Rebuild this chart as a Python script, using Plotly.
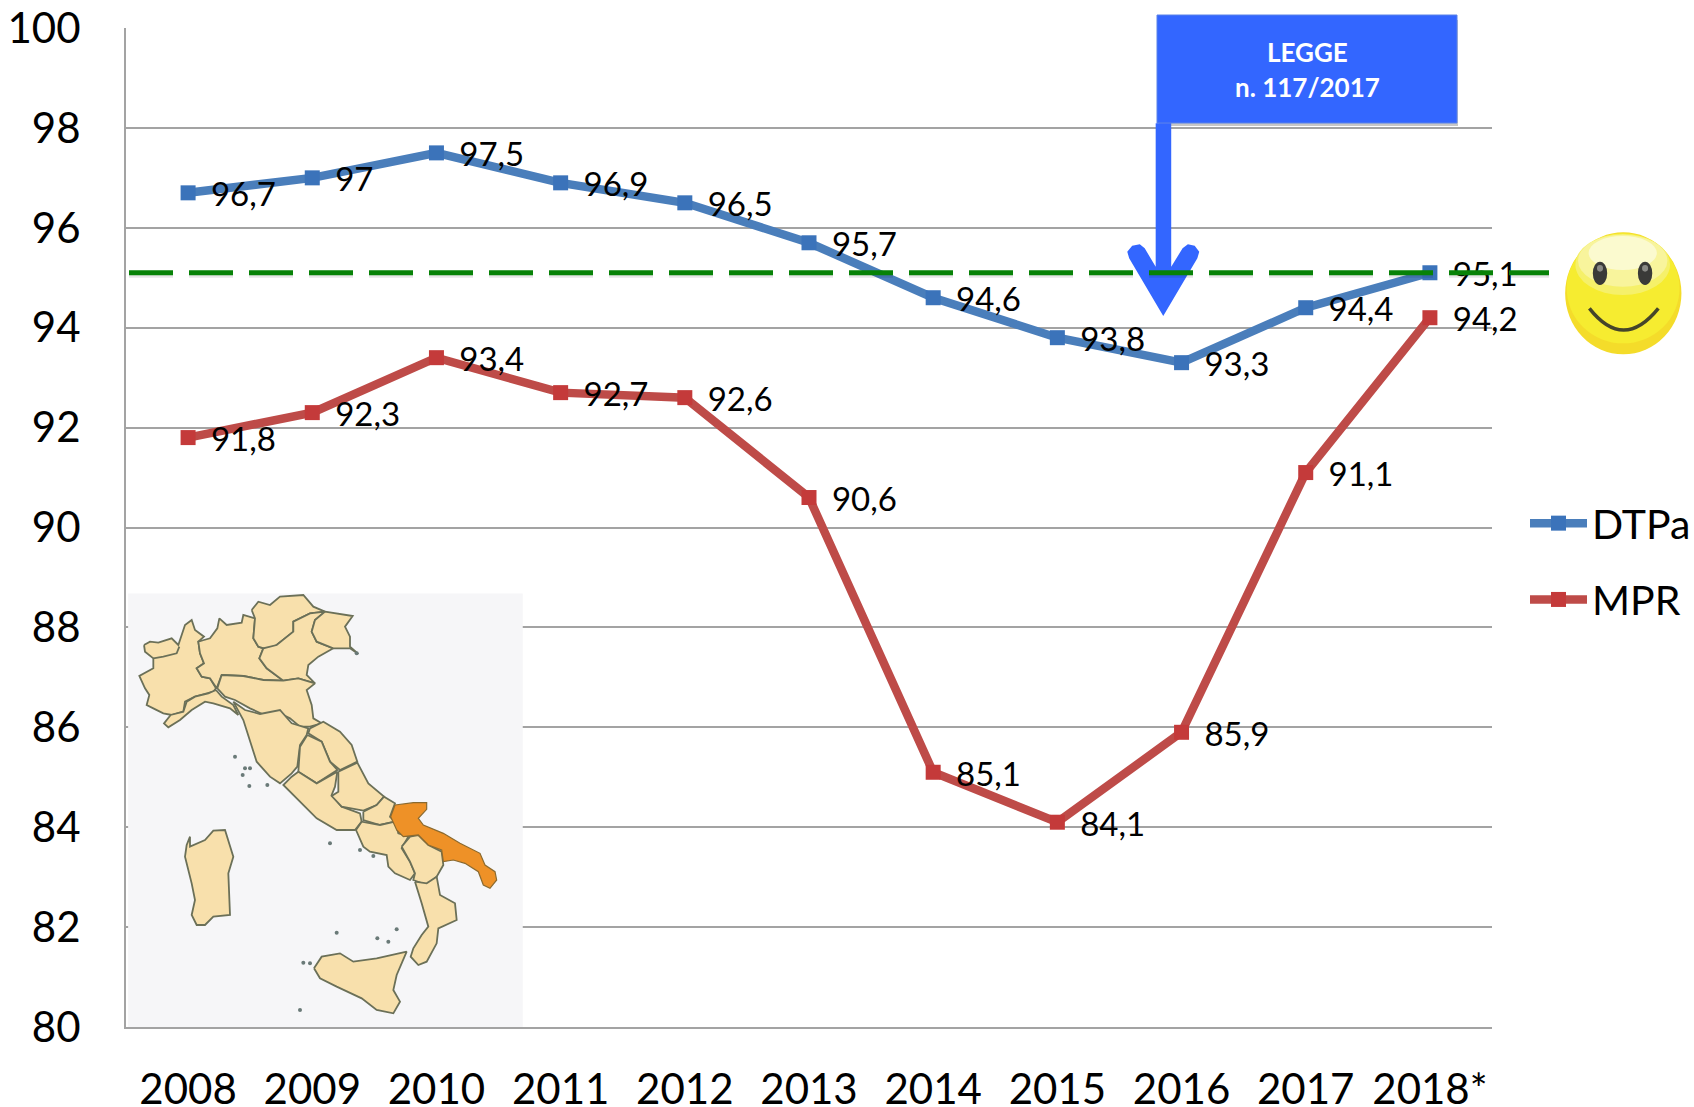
import plotly.graph_objects as go

W, H = 1694, 1107
YEARS = ["2008", "2009", "2010", "2011", "2012", "2013", "2014", "2015", "2016", "2017", "2018*"]
DTPA = [96.7, 97, 97.5, 96.9, 96.5, 95.7, 94.6, 93.8, 93.3, 94.4, 95.1]
MPR = [91.8, 92.3, 93.4, 92.7, 92.6, 90.6, 85.1, 84.1, 85.9, 91.1, 94.2]
Y_TICKS = list(range(80, 101, 2))
BOX_LINES = ["LEGGE", "n. 117/2017"]

FONT = "Lato, Noto Sans, sans-serif"
BLUE_LINE, BLUE_MARK = "#4A7EBB", "#3B73BA"
RED_LINE, RED_MARK = "#BE4B48", "#C43A3A"
GRID = "#A3A3A3"
GREEN = "#078207"
ARROW = "#3366FF"

NORTH_ORIGIN = (60, 30)
NORTH = {
    "Piemonte": [(42,165),(60,155),(85,158),(125,145),(145,165),(150,150),(165,105),(185,90),(195,120),(222,140),(205,155),(210,190),(222,220),(200,235),(215,260),(240,265),(258,295),(250,305),(230,310),(195,320),(165,335),(160,365),(125,375),(100,370),(70,355),(50,345),(58,315),(45,295),(28,258),(70,235),(70,205),(45,185)],
    "Liguria": [(258,300),(275,320),(310,345),(325,375),(300,355),(250,340),(225,335),(185,360),(150,390),(115,412),(102,400),(122,375),(160,365),(170,335),(195,320),(235,310)],
    "Lombardia": [(222,150),(240,145),(262,115),(268,85),(290,105),(335,98),(340,75),(375,85),(370,145),(385,170),(400,175),(388,205),(410,235),(460,272),(400,270),(340,258),(275,255),(260,295),(240,265),(215,260),(200,235),(222,220),(210,190),(205,155)],
    "Trentino": [(365,60),(385,35),(420,45),(450,20),(520,15),(550,50),(585,65),(540,70),(510,85),(490,95),(490,125),(440,165),(410,178),(385,170),(370,145),(375,85)],
    "Veneto": [(585,65),(555,90),(545,125),(560,155),(610,175),(565,200),(535,225),(530,255),(555,280),(505,265),(460,272),(410,235),(388,205),(400,175),(440,165),(490,125),(490,95),(510,85),(540,70)],
    "Friuli": [(585,65),(668,78),(645,110),(660,140),(660,170),(685,192),(660,175),(610,175),(560,155),(545,125),(555,90)],
    "Emilia": [(275,255),(340,258),(400,270),(460,272),(505,265),(555,280),(530,300),(545,345),(550,385),(575,400),(540,410),(510,410),(480,385),(450,370),(410,378),(360,355),(315,330),(285,320),(262,295)],
}
AOSTA_EDGE = [(70,205),(100,200),(140,190),(148,170)]
NORTH_ISLETS = [(680,190)]

CENTRE_ORIGIN = (330, 330)
CENTRE = {
    "Toscana": [(40,35),(75,60),(120,72),(180,60),(215,100),(265,115),(260,135),(240,165),(232,230),(215,250),(180,280),(150,260),(110,215),(90,150),(70,90)],
    "Marche": [(270,115),(310,95),(360,125),(395,165),(412,215),(360,240),(330,215),(305,155),(265,130)],
    "Umbria": [(262,135),(305,155),(330,215),(352,240),(290,280),(235,245),(240,170)],
    "Lazio": [(235,245),(290,280),(352,245),(345,290),(335,315),(365,350),(420,370),(425,395),(405,420),(350,420),(290,385),(250,345),(190,285),(215,260)],
    "Abruzzo": [(355,245),(412,218),(445,280),(492,320),(470,345),(430,362),(365,350),(335,318),(355,305)],
    "Molise": [(430,365),(470,345),(492,320),(525,340),(510,380),(525,395),(480,405),(430,390)],
    "Campania": [(408,420),(425,395),(480,405),(525,395),(535,430),(565,440),(545,475),(570,515),(585,550),(570,570),(525,550),(505,530),(500,495),(450,485),(430,470)],
    "Basilicata": [(545,470),(570,440),(595,435),(625,465),(665,485),(670,525),(650,560),(620,585),(580,570),(585,550),(570,515)],
}
PUGLIA = [(525,345),(580,338),(620,338),(620,358),(595,385),(610,405),(670,430),(720,460),(780,490),(795,525),(825,545),(830,570),(810,595),(790,585),(775,545),(735,520),(700,510),(670,515),(665,480),(625,465),(595,435),(550,440),(530,420),(512,380)]
CENTRE_ISLETS = [(45,200),(75,235),(90,235),(68,255),(88,288),(142,285)]

SOUTH_ORIGIN = (180, 720)
SOUTH = {
    "Calabria": [(735,185),(770,190),(800,170),(810,225),(855,250),(860,300),(805,325),(800,370),(770,425),(745,435),(722,410),(730,385),(755,345),(775,320),(755,250)],
    "Sicilia": [(432,445),(455,410),(510,400),(550,425),(620,415),(710,395),(680,465),(670,510),(690,545),(670,580),(620,570),(575,535),(500,500),(450,475)],
    "Sardegna": [(50,75),(60,50),(60,80),(105,60),(130,32),(165,30),(190,110),(175,160),(180,285),(130,290),(105,315),(80,315),(65,285),(75,240),(65,190),(45,110)],
}
SOUTH_ISLETS = [(480,70),(570,90),(610,108),(500,338),(680,328),(622,355),(655,365),(400,428),(420,430),(390,570)]

ARROW_OUTLINE = [(167,948),(77,775),(72,755),(85,737),(105,733),(118,745),(147,800),(147,370),(188,370),(188,800),(218,745),(232,733),(250,737),(262,755),(257,775)]


def px(x):
    return x / W


def py(y):
    return 1 - y / H


def cx(x):
    return 1100 + x / 2.64


def cy(y):
    return y / 3


def path(points):
    return "M " + " L ".join(f"{px(x):.5f},{py(y):.5f}" for x, y in points) + " Z"


def label(v):
    return f"{v:g}".replace(".", ",")


def shift(points, origin):
    return [(x + origin[0], y + origin[1]) for x, y in points]


fig = go.Figure()

for name, values, lc, mc in [("DTPa", DTPA, BLUE_LINE, BLUE_MARK), ("MPR", MPR, RED_LINE, RED_MARK)]:
    fig.add_trace(go.Scatter(
        x=YEARS, y=values, name=name, mode="lines+markers", legendgroup=name,
        line=dict(color=lc, width=8.5),
        marker=dict(symbol="square", size=15, color=mc),
        hoverinfo="skip",
    ))
for values in (DTPA, MPR):
    fig.add_trace(go.Scatter(
        x=YEARS, y=values, mode="markers+text", showlegend=False, yaxis="y3",
        text=[label(v) for v in values], textposition="middle right",
        textfont=dict(family=FONT, size=33, color="#000000"),
        marker=dict(size=35, opacity=0), hoverinfo="skip", cliponaxis=False,
    ))


def region(pts, fill, edge, width):
    pts = pts + [pts[0]]
    fig.add_trace(go.Scatter(
        x=[p[0] for p in pts], y=[p[1] for p in pts],
        mode="lines", fill="toself", fillcolor=fill, xaxis="x2", yaxis="y2",
        line=dict(color=edge, width=width), showlegend=False, hoverinfo="skip",
    ))


for pts in NORTH.values():
    region(shift(pts, NORTH_ORIGIN), "#F8E0AC", "#6B7058", 1.8)
for pts in CENTRE.values():
    region(shift(pts, CENTRE_ORIGIN), "#F8E0AC", "#6B7058", 1.8)
for pts in SOUTH.values():
    region(shift(pts, SOUTH_ORIGIN), "#F8E0AC", "#6B7058", 1.8)
region(shift(PUGLIA, CENTRE_ORIGIN), "#EE9127", "#8A6A30", 1.2)

edge = shift(AOSTA_EDGE, NORTH_ORIGIN)
fig.add_trace(go.Scatter(
    x=[p[0] for p in edge], y=[p[1] for p in edge], mode="lines", xaxis="x2", yaxis="y2",
    line=dict(color="#6B7058", width=1.8), showlegend=False, hoverinfo="skip",
))
islets = shift(NORTH_ISLETS, NORTH_ORIGIN) + shift(CENTRE_ISLETS, CENTRE_ORIGIN) + shift(SOUTH_ISLETS, SOUTH_ORIGIN)
fig.add_trace(go.Scatter(
    x=[p[0] for p in islets], y=[p[1] for p in islets], mode="markers", xaxis="x2", yaxis="y2",
    marker=dict(size=4, color="#6A7A78"), showlegend=False, hoverinfo="skip",
))

shapes = []
# inset background, above the gridlines and below the traces
shapes.append(dict(type="rect", layer="between", xref="x", yref="y", x0=-0.483, x1=2.695, y0=80, y1=88.68,
                   fillcolor="#F6F6F8", line_width=0))

# Label box and arrow
shapes.append(dict(type="rect", layer="above", xref="paper", yref="paper", x0=px(1159), x1=px(1458), y0=py(126), y1=py(20),
                   fillcolor="rgba(0,0,0,0.22)", line_width=0))
shapes.append(dict(type="rect", layer="above", xref="paper", yref="paper", x0=px(1157), x1=px(1457), y0=py(123), y1=py(15),
                   fillcolor=ARROW, line=dict(color="#5B82E8", width=1)))
shapes.append(dict(type="path", layer="above", xref="paper", yref="paper",
                   path=path([(cx(x), cy(y)) for x, y in ARROW_OUTLINE]), fillcolor=ARROW, line_width=0))

# Target dashed line at the last DTPa value
shapes.append(dict(type="line", layer="above", xref="paper", yref="y", x0=px(129), x1=px(1549), y0=DTPA[-1] - 0.05, y1=DTPA[-1] - 0.05,
                   line=dict(color="rgba(0,0,0,0.10)", width=5, dash="44px,16px")))
shapes.append(dict(type="line", layer="above", xref="paper", yref="y", x0=px(129), x1=px(1549), y0=DTPA[-1], y1=DTPA[-1],
                   line=dict(color=GREEN, width=5, dash="44px,16px")))


# Smiley
def ell(x0, x1, y0, y1, color):
    return dict(type="circle", layer="above", xref="paper", yref="paper",
                x0=px(cx(x0)), x1=px(cx(x1)), y0=py(cy(y1)), y1=py(cy(y0)),
                fillcolor=color, line_width=0)


shapes += [
    ell(1228, 1535, 697, 1063, "#F4DC2A"),
    ell(1232, 1530, 700, 1030, "#F6EC30"),
    ell(1255, 1505, 702, 885, "#F5F06A"),
    ell(1262, 1498, 704, 860, "#F8F49C"),
    ell(1290, 1470, 708, 810, "#FBFACF"),
    ell(1301, 1339, 785, 855, "#3A3A38"),
    ell(1420, 1458, 785, 855, "#3A3A38"),
    ell(1312, 1328, 795, 815, "#8A8A86"),
    ell(1431, 1447, 795, 815, "#8A8A86"),
]
mouth = [(1292, 925), (1382, 1055), (1474, 925)]
mp = [(px(cx(x)), py(cy(y))) for x, y in mouth]
shapes.append(dict(type="path", layer="above", xref="paper", yref="paper",
                   path=f"M {mp[0][0]:.5f},{mp[0][1]:.5f} Q {mp[1][0]:.5f},{mp[1][1]:.5f} {mp[2][0]:.5f},{mp[2][1]:.5f}",
                   line=dict(color="#45452A", width=3.5)))

annotations = [
    dict(text=BOX_LINES[0], xref="paper", yref="paper", x=px(1307), y=py(52), showarrow=False, xanchor="center", yanchor="middle",
         font=dict(family=FONT, size=26, color="white", weight=700)),
    dict(text=BOX_LINES[1], xref="paper", yref="paper", x=px(1307), y=py(87), showarrow=False, xanchor="center", yanchor="middle",
         font=dict(family=FONT, size=26, color="white", weight=700)),
]

fig.update_layout(
    width=W, height=H, autosize=False,
    margin=dict(l=0, r=0, t=0, b=0, autoexpand=False),
    paper_bgcolor="white", plot_bgcolor="rgba(0,0,0,0)",
    hovermode=False,
    shapes=shapes, annotations=annotations,
    font=dict(family=FONT, color="#000000"),
    xaxis=dict(domain=[px(126), px(1492)], type="category", range=[-0.5, 10.5], categoryorder="array", categoryarray=YEARS,
               automargin=False, showgrid=False, zeroline=False, showline=True, linecolor=GRID, linewidth=2,
               ticks="", ticklabelstandoff=25, tickangle=0, tickfont=dict(family=FONT, size=42, color="#000000")),
    yaxis=dict(domain=[py(1027), py(28)], range=[80, 100], tickmode="array", tickvals=Y_TICKS,
               automargin=False, showgrid=True, gridcolor=GRID, gridwidth=2, zeroline=False, showline=True, linecolor=GRID, linewidth=2,
               ticks="", ticklabelstandoff=35, tickfont=dict(family=FONT, size=42, color="#000000")),
    yaxis3=dict(domain=[py(1027), py(28)], range=[80.105, 100.105], overlaying="y", visible=False, automargin=False),
    xaxis2=dict(domain=[px(110), px(540)], range=[0, 1290], visible=False, anchor="y2", automargin=False),
    yaxis2=dict(domain=[py(1040), py(580)], range=[1380, 0], visible=False, anchor="x2", automargin=False),
    showlegend=True,
    legend=dict(x=px(1525), y=py(490), xanchor="left", yanchor="top", bgcolor="rgba(0,0,0,0)",
                font=dict(family=FONT, size=41, color="#000000"), itemwidth=57, tracegroupgap=20,
                traceorder="grouped"),
)

fig.write_html("out.html", config={"displayModeBar": False}, post_script="document.body.style.margin='0';")
